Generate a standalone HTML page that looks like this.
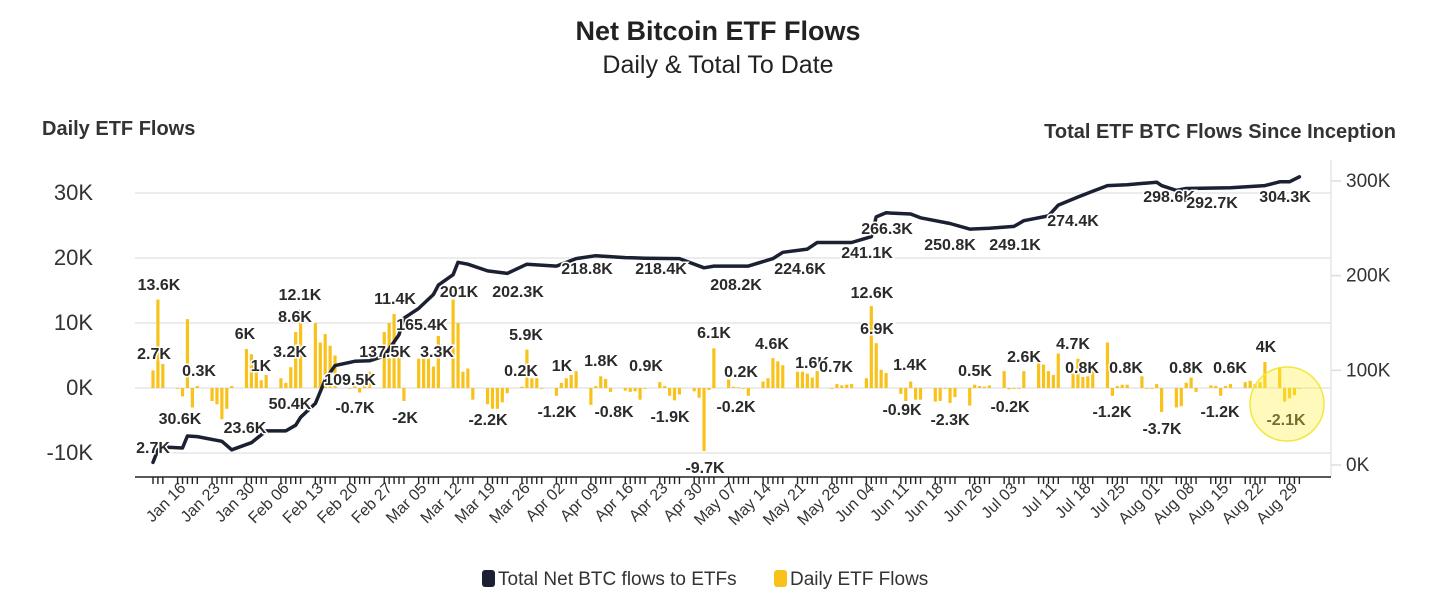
<!DOCTYPE html>
<html><head><meta charset="utf-8"><style>
html,body{margin:0;padding:0;background:#fff;}
body{width:1456px;height:602px;overflow:hidden;font-family:"Liberation Sans",sans-serif;}
svg text{font-family:"Liberation Sans",sans-serif;}
</style></head><body>
<svg id="chart" width="1456" height="602" xmlns="http://www.w3.org/2000/svg">
<text x="718" y="40" text-anchor="middle" font-size="27" font-weight="bold" fill="#222">Net Bitcoin ETF Flows</text>
<text x="718" y="73" text-anchor="middle" font-size="25" fill="#222">Daily &amp; Total To Date</text>
<text x="42" y="135" font-size="20" font-weight="bold" fill="#333">Daily ETF Flows</text>
<text x="1396" y="138" text-anchor="end" font-size="20" font-weight="bold" fill="#333">Total ETF BTC Flows Since Inception</text>
<g id="grid"></g><g id="bars"></g><g id="line"></g><g id="xaxis"></g><g id="labels"></g>
<circle cx="1287" cy="404" r="37" fill="rgba(255,240,60,0.35)" stroke="#f2e640" stroke-width="1.5"/>
<g>
<rect x="482" y="570" width="13" height="17" rx="3" fill="#1b2133"/>
<text x="498" y="585" font-size="19" fill="#333">Total Net BTC flows to ETFs</text>
<rect x="774" y="570" width="13" height="17" rx="3" fill="#f9c21b"/>
<text x="790" y="585" font-size="19" fill="#333">Daily ETF Flows</text>
</g>
</svg>
<script>
const leftTicks=[30,20,10,0,-10];
const leftTickLabels=["30K","20K","10K","0K","-10K"];
const rightTicks=[300,200,100,0];
const rightTickLabels=["300K","200K","100K","0K"];
const xTickLabels=["Jan 16","Jan 23","Jan 30","Feb 06","Feb 13","Feb 20","Feb 27","Mar 05","Mar 12","Mar 19","Mar 26","Apr 02","Apr 09","Apr 16","Apr 23","Apr 30","May 07","May 14","May 21","May 28","Jun 04","Jun 11","Jun 18","Jun 26","Jul 03","Jul 11","Jul 18","Jul 25","Aug 01","Aug 08","Aug 15","Aug 22","Aug 29"];
const xTickDates=["2024-01-16","2024-01-23","2024-01-30","2024-02-06","2024-02-13","2024-02-20","2024-02-27","2024-03-05","2024-03-12","2024-03-19","2024-03-26","2024-04-02","2024-04-09","2024-04-16","2024-04-23","2024-04-30","2024-05-07","2024-05-14","2024-05-21","2024-05-28","2024-06-04","2024-06-11","2024-06-18","2024-06-26","2024-07-03","2024-07-11","2024-07-18","2024-07-25","2024-08-01","2024-08-08","2024-08-15","2024-08-22","2024-08-29"];
const dailyFlows=[2.7,13.6,3.7,
0,-1.3,10.6,-3,0.3,
-2,-2.5,-4.8,-3.2,0.3,
6,5.2,2.8,1.2,2,
1.5,0.8,3.2,8.6,12.1,
10,7,8.3,6.5,5,
0,0.3,-0.7,0.5,2.5,
8.6,10,11.4,6,-2,
4.5,4.5,4.5,3.3,8,
13.6,10,2.5,3,-1.8,
-2.5,-3.2,-3.2,-2.2,-0.8,
0.2,5.9,1.5,1.5,0,
-1.2,0.8,1.5,2,2.6,
-2.6,0.3,1.8,1.4,-0.6,
-0.4,-0.6,-0.5,-1.8,0,
0.9,0.3,-1.2,-1.9,-1,
-0.5,-1.5,-9.7,-0.3,6.1,
1.3,0.2,0.1,-0.1,-1.2,
1,1.5,4.6,4.1,3.5,
2.5,2.5,2.2,1.6,2.6,
0,0.6,0.4,0.5,0.6,
1.5,12.6,6.9,2.8,2.3,
-0.9,-2,1,-1.8,-1.8,
-2.1,-2,0,-2.3,-1.4,
-2.7,0.5,0.3,0.2,0.4,
2.6,-0.2,-0.1,0,2.6,
3.8,3.6,2.6,2,5.3,
2.6,4.5,1.7,1.8,3.6,
7,-1.2,0.3,0.5,0.5,
1.8,-0.1,0,0.6,-3.7,
-3,-2.8,0.8,1.6,-0.6,
0.4,0.3,-1.2,0.3,0.6,
0.9,1.1,0.6,0.9,4,
3,-2.1,-1.6,-1.1,0];
const totalDates=["2024-01-10","2024-01-11","2024-01-12","2024-01-16","2024-01-17","2024-01-19","2024-01-24","2024-01-26","2024-01-30","2024-02-02","2024-02-06","2024-02-08","2024-02-09","2024-02-12","2024-02-14","2024-02-16","2024-02-20","2024-02-23","2024-02-26","2024-02-29","2024-03-01","2024-03-04","2024-03-07","2024-03-08","2024-03-11","2024-03-12","2024-03-14","2024-03-18","2024-03-22","2024-03-26","2024-04-01","2024-04-05","2024-04-09","2024-04-15","2024-04-19","2024-04-26","2024-05-01","2024-05-03","2024-05-10","2024-05-15","2024-05-17","2024-05-22","2024-05-24","2024-05-31","2024-06-04","2024-06-05","2024-06-07","2024-06-12","2024-06-14","2024-06-20","2024-06-24","2024-06-28","2024-07-03","2024-07-05","2024-07-10","2024-07-12","2024-07-16","2024-07-19","2024-07-22","2024-07-26","2024-08-01","2024-08-02","2024-08-05","2024-08-07","2024-08-16","2024-08-23","2024-08-26","2024-08-28","2024-08-30"];
const totalValues=[2.7,16,19,18,30.6,30,25,16,23.6,36,36,42,50.4,65,90,105,109.5,110,115,137.5,155,165.4,180,190,201,214,212,205,202.3,212,210,218,221,219,218.4,218,208.2,210,210,218,224.6,228,235,235,241.1,262,266.3,265,261,255,249.1,250,252,258,263,274.4,283,289,295,296,298.6,295,290,292,292.7,295,299,299,304.3];
const annText=["13.6K","2.7K","0.3K","6K","1K","12.1K","8.6K","3.2K","11.4K","165.4K","3.3K","137.5K","201K","202.3K","218.8K","218.4K","208.2K","224.6K","241.1K","266.3K","250.8K","249.1K","274.4K","298.6K","292.7K","304.3K","5.9K","0.2K","1K","1.8K","0.9K","-2.2K","-1.2K","-0.8K","-1.9K","-9.7K","6.1K","0.2K","-0.2K","4.6K","1.6K","0.7K","12.6K","6.9K","1.4K","-0.9K","-2.3K","0.5K","-0.2K","2.6K","4.7K","0.8K","0.8K","-1.2K","-3.7K","0.8K","0.6K","-1.2K","4K","-2.1K","30.6K","23.6K","2.7K","50.4K","109.5K","-0.7K","-2K"];
const annPos=[[159,290],[154,359],[199,376],[245,339],[261,371],[300,300],[295,322],[290,357],[395,304],[422,330],[437,357],[385,357],[459,297],[518,297],[587,274],[661,274],[736,290],[800,274],[867,258],[887,234],[950,250],[1015,250],[1073,226],[1169,202],[1212,208],[1285,202],[526,340],[521,376],[562,371],[601,366],[646,371],[488,425],[557,417],[614,417],[670,422],[705,473],[714,338],[741,377],[736,412],[772,349],[812,368],[836,372],[872,298],[877,334],[910,370],[902,415],[950,425],[975,376],[1010,412],[1024,362],[1073,349],[1082,373],[1126,373],[1112,417],[1162,434],[1186,373],[1230,373],[1220,417],[1266,352],[1286,425],[180,424],[245,433],[153,453],[290,409],[350,385],[355,413],[405,423]];

const NS="http://www.w3.org/2000/svg";
const X0=135,X1=1331,BASE=Date.UTC(2024,0,10),DAYPX=4.92,XSTART=153;
function xDate(s){const p=s.split("-");return XSTART+(Date.UTC(+p[0],+p[1]-1,+p[2])-BASE)/864e5*DAYPX;}
function yL(v){return 388-v*6.5;}
function yR(v){return 465-v*0.947;}
function mk(t,a,parent){const e=document.createElementNS(NS,t);for(const k in a)e.setAttribute(k,a[k]);parent.appendChild(e);return e;}
const grid=document.getElementById("grid");
leftTicks.forEach((v,i)=>{
 const g=mk("line",{x1:X0,x2:X1,y1:yL(v),y2:yL(v),stroke:"#e5e5e5","stroke-width":1.5},grid);
 
 
 const t=mk("text",{x:93,y:yL(v)+7,"text-anchor":"end","font-size":22,fill:"#333"},grid);
 t.textContent=leftTickLabels[i];
 
 
});
const ra=mk("line",{x1:X1,x2:X1,y1:160,y2:477,stroke:"#e5e5e5","stroke-width":1.5},grid);


rightTicks.forEach((v,i)=>{
 const tk=mk("line",{x1:X1,x2:X1+10,y1:yR(v),y2:yR(v),stroke:"#ddd","stroke-width":1.5},grid);
 
 
 const t=mk("text",{x:1346,y:yR(v)+6,"font-size":19,fill:"#333"},grid);
 t.textContent=rightTickLabels[i];
 
 
});
const days=[];let d=BASE;while(days.length<dailyFlows.length){const wd=new Date(d).getUTCDay();if(wd>0&&wd<6)days.push(d);d+=864e5;}
const bars=document.getElementById("bars"),xa=document.getElementById("xaxis");
days.forEach((t,i)=>{
 const x=XSTART+(t-BASE)/864e5*DAYPX;const v=dailyFlows[i];
 const y=Math.min(yL(v),yL(0)),h=Math.max(Math.abs(yL(v)-yL(0)),0.8);
 const r=mk("rect",{x:x-1.6,y:y,width:3.2,height:h,fill:"#f9c21b"},bars);
 
 
 const tk=mk("line",{x1:x,x2:x,y1:477,y2:484,stroke:"#222","stroke-width":1.4},xa);
 
 
});
const ax=mk("line",{x1:X0,x2:X1,y1:477,y2:477,stroke:"#222","stroke-width":1.5},xa);


xTickLabels.forEach((s,i)=>{
 const x=xDate(xTickDates[i])+4;
 const t=mk("text",{x:x,y:489,"text-anchor":"end","font-size":16,fill:"#333",transform:`rotate(-45 ${x} 489)`},xa);
 t.textContent=s;
 
 
});
const lg=document.getElementById("line");
let dp=totalDates.map((s,i)=>(i?"L":"M")+xDate(s).toFixed(1)+" "+yR(totalValues[i]).toFixed(1)).join(" ");
const p=mk("path",{d:dp,fill:"none",stroke:"#1b2133","stroke-width":3.5,"stroke-linejoin":"round","stroke-linecap":"round"},lg);


const lb=document.getElementById("labels");
annText.forEach((s,i)=>{
 const t=mk("text",{x:annPos[i][0],y:annPos[i][1],"text-anchor":"middle","font-size":16,"font-weight":"bold",fill:"#2a2a2a",stroke:"#fff","stroke-width":3,"paint-order":"stroke"},lb);
 t.textContent=s;
 
 
});
</script>
</body></html>
